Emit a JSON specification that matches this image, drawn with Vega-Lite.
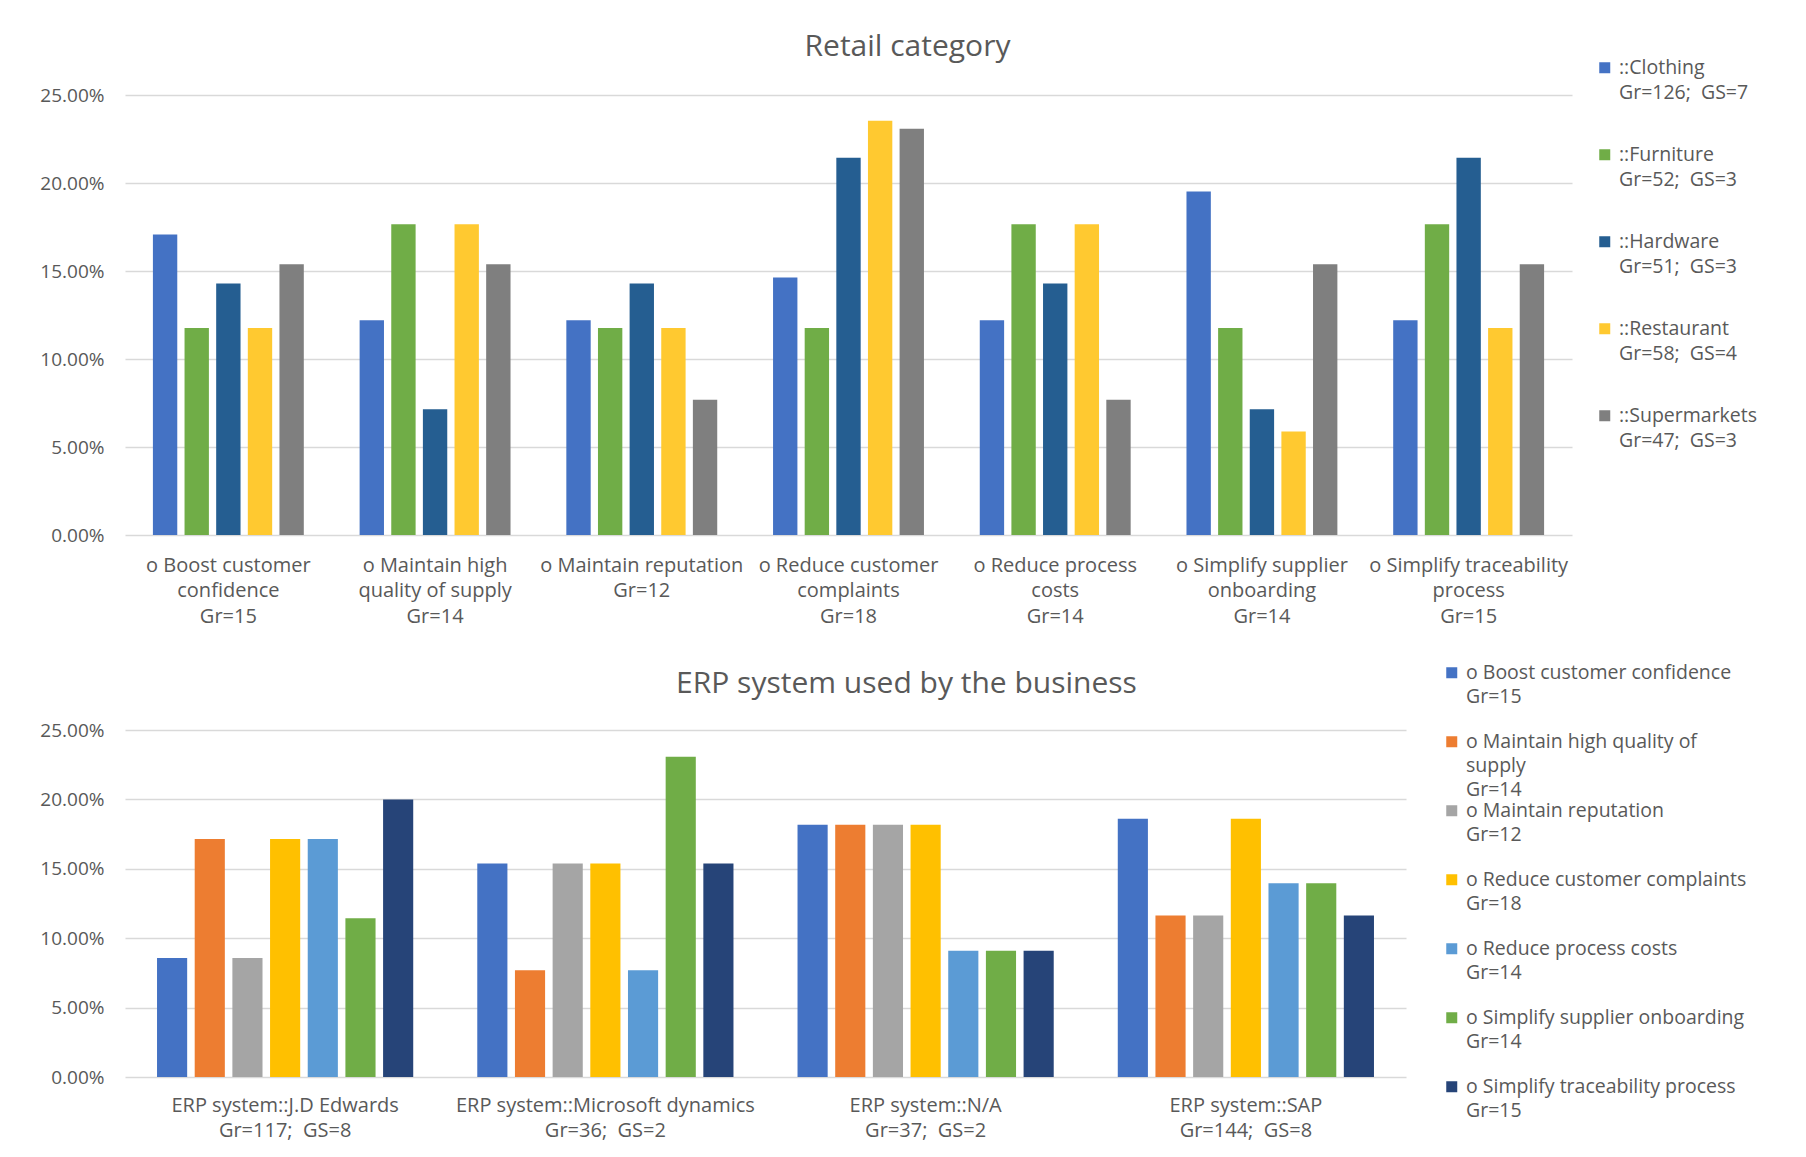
{
  "$schema": "https://vega.github.io/schema/vega-lite/v6.json",
  "background": "white",
  "padding": {"left": 39, "top": 32, "right": 5, "bottom": 5},
  "bounds": "flush",
  "spacing": 195,
  "resolve": {"scale": {"color": "independent", "xOffset": "independent", "x": "independent", "y": "independent"}, "legend": {"color": "independent"}},
  "config": {
    "font": "Open Sans",
    "view": {"stroke": null},
    "axis": {"labelColor": "#595959", "labelFontSize": 19, "ticks": false, "domain": false, "gridColor": "#D9D9D9", "gridWidth": 1.5, "labelLimit": 0},
    "legend": {"labelColor": "#595959", "labelFontSize": 19.5, "labelLimit": 0, "symbolType": "square", "symbolSize": 121, "symbolStrokeWidth": 0, "labelOffset": 4.5, "padding": 0},
    "title": {"color": "#595959", "fontSize": 30, "fontWeight": "normal", "anchor": "middle", "baseline": "alphabetic"}
  },
  "datasets": {
    "retail": [
      {"goal": "o Boost customer\nconfidence\nGr=15", "category": "::Clothing\nGr=126; \u00a0GS=7", "share": 0.1707},
      {"goal": "o Boost customer\nconfidence\nGr=15", "category": "::Furniture\nGr=52; \u00a0GS=3", "share": 0.1176},
      {"goal": "o Boost customer\nconfidence\nGr=15", "category": "::Hardware\nGr=51; \u00a0GS=3", "share": 0.1429},
      {"goal": "o Boost customer\nconfidence\nGr=15", "category": "::Restaurant\nGr=58; \u00a0GS=4", "share": 0.1176},
      {"goal": "o Boost customer\nconfidence\nGr=15", "category": "::Supermarkets\nGr=47; \u00a0GS=3", "share": 0.1538},
      {"goal": "o Maintain high\nquality of supply\nGr=14", "category": "::Clothing\nGr=126; \u00a0GS=7", "share": 0.1220},
      {"goal": "o Maintain high\nquality of supply\nGr=14", "category": "::Furniture\nGr=52; \u00a0GS=3", "share": 0.1765},
      {"goal": "o Maintain high\nquality of supply\nGr=14", "category": "::Hardware\nGr=51; \u00a0GS=3", "share": 0.0714},
      {"goal": "o Maintain high\nquality of supply\nGr=14", "category": "::Restaurant\nGr=58; \u00a0GS=4", "share": 0.1765},
      {"goal": "o Maintain high\nquality of supply\nGr=14", "category": "::Supermarkets\nGr=47; \u00a0GS=3", "share": 0.1538},
      {"goal": "o Maintain reputation\nGr=12", "category": "::Clothing\nGr=126; \u00a0GS=7", "share": 0.1220},
      {"goal": "o Maintain reputation\nGr=12", "category": "::Furniture\nGr=52; \u00a0GS=3", "share": 0.1176},
      {"goal": "o Maintain reputation\nGr=12", "category": "::Hardware\nGr=51; \u00a0GS=3", "share": 0.1429},
      {"goal": "o Maintain reputation\nGr=12", "category": "::Restaurant\nGr=58; \u00a0GS=4", "share": 0.1176},
      {"goal": "o Maintain reputation\nGr=12", "category": "::Supermarkets\nGr=47; \u00a0GS=3", "share": 0.0769},
      {"goal": "o Reduce customer\ncomplaints\nGr=18", "category": "::Clothing\nGr=126; \u00a0GS=7", "share": 0.1463},
      {"goal": "o Reduce customer\ncomplaints\nGr=18", "category": "::Furniture\nGr=52; \u00a0GS=3", "share": 0.1176},
      {"goal": "o Reduce customer\ncomplaints\nGr=18", "category": "::Hardware\nGr=51; \u00a0GS=3", "share": 0.2143},
      {"goal": "o Reduce customer\ncomplaints\nGr=18", "category": "::Restaurant\nGr=58; \u00a0GS=4", "share": 0.2353},
      {"goal": "o Reduce customer\ncomplaints\nGr=18", "category": "::Supermarkets\nGr=47; \u00a0GS=3", "share": 0.2308},
      {"goal": "o Reduce process\ncosts\nGr=14", "category": "::Clothing\nGr=126; \u00a0GS=7", "share": 0.1220},
      {"goal": "o Reduce process\ncosts\nGr=14", "category": "::Furniture\nGr=52; \u00a0GS=3", "share": 0.1765},
      {"goal": "o Reduce process\ncosts\nGr=14", "category": "::Hardware\nGr=51; \u00a0GS=3", "share": 0.1429},
      {"goal": "o Reduce process\ncosts\nGr=14", "category": "::Restaurant\nGr=58; \u00a0GS=4", "share": 0.1765},
      {"goal": "o Reduce process\ncosts\nGr=14", "category": "::Supermarkets\nGr=47; \u00a0GS=3", "share": 0.0769},
      {"goal": "o Simplify supplier\nonboarding\nGr=14", "category": "::Clothing\nGr=126; \u00a0GS=7", "share": 0.1951},
      {"goal": "o Simplify supplier\nonboarding\nGr=14", "category": "::Furniture\nGr=52; \u00a0GS=3", "share": 0.1176},
      {"goal": "o Simplify supplier\nonboarding\nGr=14", "category": "::Hardware\nGr=51; \u00a0GS=3", "share": 0.0714},
      {"goal": "o Simplify supplier\nonboarding\nGr=14", "category": "::Restaurant\nGr=58; \u00a0GS=4", "share": 0.0588},
      {"goal": "o Simplify supplier\nonboarding\nGr=14", "category": "::Supermarkets\nGr=47; \u00a0GS=3", "share": 0.1538},
      {"goal": "o Simplify traceability\nprocess\nGr=15", "category": "::Clothing\nGr=126; \u00a0GS=7", "share": 0.1220},
      {"goal": "o Simplify traceability\nprocess\nGr=15", "category": "::Furniture\nGr=52; \u00a0GS=3", "share": 0.1765},
      {"goal": "o Simplify traceability\nprocess\nGr=15", "category": "::Hardware\nGr=51; \u00a0GS=3", "share": 0.2143},
      {"goal": "o Simplify traceability\nprocess\nGr=15", "category": "::Restaurant\nGr=58; \u00a0GS=4", "share": 0.1176},
      {"goal": "o Simplify traceability\nprocess\nGr=15", "category": "::Supermarkets\nGr=47; \u00a0GS=3", "share": 0.1538}
    ],
    "erp": [
      {"system": "ERP system::J.D Edwards\nGr=117; \u00a0GS=8", "goal": "o Boost customer confidence\nGr=15", "share": 0.0857},
      {"system": "ERP system::J.D Edwards\nGr=117; \u00a0GS=8", "goal": "o Maintain high quality of\nsupply\nGr=14", "share": 0.1714},
      {"system": "ERP system::J.D Edwards\nGr=117; \u00a0GS=8", "goal": "o Maintain reputation\nGr=12", "share": 0.0857},
      {"system": "ERP system::J.D Edwards\nGr=117; \u00a0GS=8", "goal": "o Reduce customer complaints\nGr=18", "share": 0.1714},
      {"system": "ERP system::J.D Edwards\nGr=117; \u00a0GS=8", "goal": "o Reduce process costs\nGr=14", "share": 0.1714},
      {"system": "ERP system::J.D Edwards\nGr=117; \u00a0GS=8", "goal": "o Simplify supplier onboarding\nGr=14", "share": 0.1143},
      {"system": "ERP system::J.D Edwards\nGr=117; \u00a0GS=8", "goal": "o Simplify traceability process\nGr=15", "share": 0.2000},
      {"system": "ERP system::Microsoft dynamics\nGr=36; \u00a0GS=2", "goal": "o Boost customer confidence\nGr=15", "share": 0.1538},
      {"system": "ERP system::Microsoft dynamics\nGr=36; \u00a0GS=2", "goal": "o Maintain high quality of\nsupply\nGr=14", "share": 0.0769},
      {"system": "ERP system::Microsoft dynamics\nGr=36; \u00a0GS=2", "goal": "o Maintain reputation\nGr=12", "share": 0.1538},
      {"system": "ERP system::Microsoft dynamics\nGr=36; \u00a0GS=2", "goal": "o Reduce customer complaints\nGr=18", "share": 0.1538},
      {"system": "ERP system::Microsoft dynamics\nGr=36; \u00a0GS=2", "goal": "o Reduce process costs\nGr=14", "share": 0.0769},
      {"system": "ERP system::Microsoft dynamics\nGr=36; \u00a0GS=2", "goal": "o Simplify supplier onboarding\nGr=14", "share": 0.2308},
      {"system": "ERP system::Microsoft dynamics\nGr=36; \u00a0GS=2", "goal": "o Simplify traceability process\nGr=15", "share": 0.1538},
      {"system": "ERP system::N/A\nGr=37; \u00a0GS=2", "goal": "o Boost customer confidence\nGr=15", "share": 0.1818},
      {"system": "ERP system::N/A\nGr=37; \u00a0GS=2", "goal": "o Maintain high quality of\nsupply\nGr=14", "share": 0.1818},
      {"system": "ERP system::N/A\nGr=37; \u00a0GS=2", "goal": "o Maintain reputation\nGr=12", "share": 0.1818},
      {"system": "ERP system::N/A\nGr=37; \u00a0GS=2", "goal": "o Reduce customer complaints\nGr=18", "share": 0.1818},
      {"system": "ERP system::N/A\nGr=37; \u00a0GS=2", "goal": "o Reduce process costs\nGr=14", "share": 0.0909},
      {"system": "ERP system::N/A\nGr=37; \u00a0GS=2", "goal": "o Simplify supplier onboarding\nGr=14", "share": 0.0909},
      {"system": "ERP system::N/A\nGr=37; \u00a0GS=2", "goal": "o Simplify traceability process\nGr=15", "share": 0.0909},
      {"system": "ERP system::SAP\nGr=144; \u00a0GS=8", "goal": "o Boost customer confidence\nGr=15", "share": 0.1860},
      {"system": "ERP system::SAP\nGr=144; \u00a0GS=8", "goal": "o Maintain high quality of\nsupply\nGr=14", "share": 0.1163},
      {"system": "ERP system::SAP\nGr=144; \u00a0GS=8", "goal": "o Maintain reputation\nGr=12", "share": 0.1163},
      {"system": "ERP system::SAP\nGr=144; \u00a0GS=8", "goal": "o Reduce customer complaints\nGr=18", "share": 0.1860},
      {"system": "ERP system::SAP\nGr=144; \u00a0GS=8", "goal": "o Reduce process costs\nGr=14", "share": 0.1395},
      {"system": "ERP system::SAP\nGr=144; \u00a0GS=8", "goal": "o Simplify supplier onboarding\nGr=14", "share": 0.1395},
      {"system": "ERP system::SAP\nGr=144; \u00a0GS=8", "goal": "o Simplify traceability process\nGr=15", "share": 0.1163}
    ]
  },
  "vconcat": [
    {
      "width": 1447,
      "height": 440,
      "title": {"text": "Retail category", "dx": 59, "offset": -4},
      "data": {"name": "retail"},
      "mark": {"type": "bar"},
      "encoding": {
        "x": {"field": "goal", "type": "nominal", "sort": null,
          "scale": {"paddingInner": 0.27, "paddingOuter": 0.135},
          "axis": {"title": null, "labelAngle": 0, "labelExpr": "split(datum.value, '\\n')", "labelPadding": 20, "labelLineHeight": 25.5, "labelBaseline": "top", "labelFontSize": 20}},
        "xOffset": {"field": "category", "type": "nominal", "sort": null, "scale": {"paddingInner": 0.23, "paddingOuter": 0}},
        "y": {"field": "share", "type": "quantitative", "scale": {"domain": [0, 0.25]},
          "axis": {"title": null, "format": ".2%", "values": [0, 0.05, 0.1, 0.15, 0.2, 0.25], "labelPadding": 21}},
        "color": {"field": "category", "type": "nominal", "sort": null,
          "scale": {"range": ["#4472C4", "#70AD47", "#255E91", "#FFC930", "#7F7F7F"]},
          "legend": {"title": null, "orient": "none", "legendX": 1470, "legendY": -37, "labelExpr": "split(datum.value, '\\n')", "rowPadding": 41, "labelBaseline": "middle",
            "encode": {"labels": {"update": {"lineHeight": {"value": 25.5}}}}}}
      }
    },
    {
      "width": 1281,
      "height": 347,
      "title": {"text": "ERP system used by the business", "dx": 141, "offset": -36},
      "data": {"name": "erp"},
      "mark": {"type": "bar"},
      "encoding": {
        "x": {"field": "system", "type": "nominal", "sort": null,
          "scale": {"paddingInner": 0.2, "paddingOuter": 0.1},
          "axis": {"title": null, "labelAngle": 0, "labelExpr": "split(datum.value, '\\n')", "labelPadding": 18, "labelLineHeight": 25.5, "labelBaseline": "top", "labelFontSize": 20}},
        "xOffset": {"field": "goal", "type": "nominal", "sort": null, "scale": {"paddingInner": 0.2, "paddingOuter": 0}},
        "y": {"field": "share", "type": "quantitative", "scale": {"domain": [0, 0.25]},
          "axis": {"title": null, "format": ".2%", "values": [0, 0.05, 0.1, 0.15, 0.2, 0.25], "labelPadding": 21}},
        "color": {"field": "goal", "type": "nominal", "sort": null,
          "scale": {"range": ["#4472C4", "#ED7D31", "#A5A5A5", "#FFC000", "#5B9BD5", "#70AD47", "#264478"]},
          "legend": {"title": null, "orient": "none", "legendX": 1317, "legendY": -67, "labelExpr": "split(datum.value, '\\n')", "rowPadding": 0, "gridAlign": "all", "labelBaseline": "middle",
            "encode": {"labels": {"update": {"lineHeight": {"value": 24}}}}}}
      }
    }
  ]
}
